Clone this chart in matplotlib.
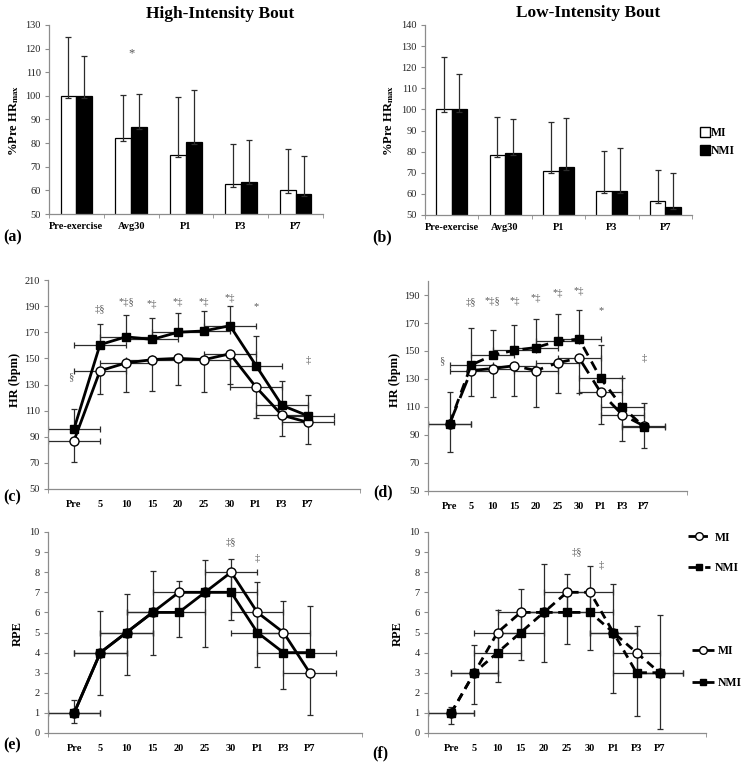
import numpy as np
import matplotlib.pyplot as plt
from matplotlib.lines import Line2D

plt.rcParams['font.family'] = 'Liberation Serif'
plt.rcParams['mathtext.fontset'] = 'stix'

W, H = 747, 771

# bar panels (a, b): % of pre-exercise HRmax
bar_cats = ['Pre-exercise', 'Avg30', 'P1', 'P3', 'P7']
hi_mi = [100, 82, 75, 62.5, 60]
hi_mi_sd = [25, 18.5, 24.5, 17, 17.5]
hi_nmi = [100, 87, 80.5, 63.5, 58.5]
hi_nmi_sd = [17, 14, 22, 18, 16]
lo_mi = [100, 78.5, 71, 61.5, 56.5]
lo_mi_sd = [25, 18, 23, 19, 15]
lo_nmi = [100, 79.5, 72.5, 61.5, 54]
lo_nmi_sd = [17, 16, 23.5, 20, 16]
bar_low = [1, 1, 1, 1, 1]

# line panels (c-f)
time_cats = ['Pre', '5', '10', '15', '20', '25', '30', 'P1', 'P3', 'P7']
hr_hi_mi = [87, 140.5, 146.5, 149, 150, 149, 153.5, 128, 106.5, 101]
hr_hi_mi_sd = [16, 18, 22, 24, 20.5, 25, 23, 24, 16, 16.5]
hr_hi_nmi = [96, 160.5, 166.5, 164.5, 170, 171, 175, 144.5, 114, 106]
hr_hi_nmi_sd = [15, 16, 17, 16.5, 15, 15, 15, 22.5, 18.5, 16]
hr_lo_mi = [98, 136, 137.5, 139.5, 136, 141.5, 145, 120.5, 104.5, 96.5]
hr_lo_mi_sd = [20, 18, 20.5, 21.5, 26, 21.5, 25, 22.5, 18.5, 15.5]
hr_lo_nmi = [98, 140, 147, 150.5, 152.5, 157, 158.5, 130.5, 110, 96]
hr_lo_nmi_sd = [23, 26.5, 18, 18, 20.5, 19.5, 20.5, 23.5, 21, 17]
rpe_hi_mi = [1, 4, 5, 6, 7, 7, 8, 6, 5, 3]
rpe_hi_mi_sd = [0.5, 2.1, 2.1, 2.1, 2.2, 2.7, 2.4, 2.7, 2.8, 2.1]
rpe_hi_nmi = [1, 4, 5, 6, 6, 7, 7, 5, 4, 4]
rpe_hi_nmi_sd = [0.65, 2.05, 1.9, 2.05, 1.55, 1.6, 1.65, 2.5, 2.55, 2.3]
rpe_lo_mi = [1, 3, 5, 6, 6, 7, 7, 5, 4, 3]
rpe_lo_mi_sd = [0.55, 1.55, 2.45, 2.35, 2.45, 2.55, 2.85, 3.0, 3.15, 2.8]
rpe_lo_nmi = [1, 3, 4, 5, 6, 6, 6, 5, 3, 3]
rpe_lo_nmi_sd = [0.3, 1.4, 2.1, 2.15, 2.4, 1.9, 2.3, 2.4, 2.3, 2.85]
time_err = 1

# significance marks: (x position, y value, text)
marks_c = [(0.86, 136, '§'), (2, 188, '‡§'), (3, 193, '*‡§'), (4, 192, '*‡'), (5, 193, '*‡'),
           (6, 193, '*‡'), (7, 196, '*‡'), (8, 190, '*'), (10, 149, '‡')]
marks_d = [(0.65, 143, '§'), (2, 185, '‡§'), (3, 186, '*‡§'), (4, 186, '*‡'), (5, 188, '*‡'),
           (6, 191.5, '*‡'), (7, 193, '*‡'), (8, 179, '*'), (10, 145, '‡')]
marks_e = [(7, 9.5, '‡§'), (8, 8.7, '‡')]
marks_f = [(6.45, 9.0, '‡§'), (7.5, 8.35, '‡')]

fig = plt.figure(figsize=(W / 100, H / 100), dpi=100)

AX_COL = '#8c8c8c'
ERR_COL = '#2b2b2b'


def px_axes(l, t, r, b):
    return fig.add_axes([l / W, 1 - b / H, (r - l) / W, (b - t) / H])


def style(ax):
    for s in ['top', 'right']:
        ax.spines[s].set_visible(False)
    for s in ['left', 'bottom']:
        ax.spines[s].set_color(AX_COL)
        ax.spines[s].set_linewidth(0.9)
    ax.tick_params(axis='y', direction='out', length=3, color=AX_COL, labelsize=7.5,
                   labelcolor='#222222', pad=3)
    # labels sit on the major ticks (no mark), marks on the minor ticks
    ax.tick_params(axis='x', which='major', length=0, labelsize=7.5, pad=8)
    ax.tick_params(axis='x', which='minor', direction='out', length=3, color=AX_COL)


def bar_panel(box, mi, mi_sd, nmi, nmi_sd, ylim, yticks):
    ax = px_axes(*box)
    x = np.arange(len(bar_cats))
    w = 0.29
    ax.bar(x - w / 2, mi, w, color='white', edgecolor='black', linewidth=0.9, zorder=2)
    ax.bar(x + w / 2, nmi, w, color='black', edgecolor='black', linewidth=0.9, zorder=2)
    ax.errorbar(x - w / 2, mi, yerr=[bar_low, mi_sd], fmt='none', ecolor=ERR_COL,
                elinewidth=0.9, capsize=2.5, capthick=0.9, zorder=3)
    ax.errorbar(x + w / 2, nmi, yerr=[bar_low, nmi_sd], fmt='none', ecolor=ERR_COL,
                elinewidth=0.9, capsize=2.5, capthick=0.9, zorder=3)
    ax.set_xlim(-0.5, len(bar_cats) - 0.5)
    ax.set_ylim(*ylim)
    ax.set_yticks(yticks)
    ax.set_xticks(x)
    ax.set_xticklabels(bar_cats, fontweight='bold')
    ax.set_xticks(np.arange(len(bar_cats) + 1) - 0.5, minor=True)
    style(ax)
    ax.tick_params(axis='x', which='major', pad=6)
    return ax


def line_panel(box, mi, mi_sd, nmi, nmi_sd, ylim, yticks, mi_dash, nmi_dash, marks):
    ax = px_axes(*box)
    x = np.arange(1, len(time_cats) + 1)
    zeros = np.zeros(len(x))
    ax.errorbar(x, mi, yerr=[mi_sd, zeros], xerr=time_err, fmt='none', ecolor=ERR_COL,
                elinewidth=0.9, capsize=2.3, capthick=0.9, zorder=2)
    ax.errorbar(x, nmi, yerr=[zeros, nmi_sd], xerr=time_err, fmt='none', ecolor=ERR_COL,
                elinewidth=0.9, capsize=2.3, capthick=0.9, zorder=2)
    l1, = ax.plot(x, mi, color='black', lw=2.0, marker='o', mfc='white', mec='black',
                  mew=1.0, ms=6.5, zorder=3)
    l2, = ax.plot(x, nmi, color='black', lw=2.0, marker='s', mfc='black', mec='black',
                  ms=6, zorder=4)
    if mi_dash:
        l1.set_dashes(mi_dash)
    if nmi_dash:
        l2.set_dashes(nmi_dash)
    for mx, my, mt in marks:
        ax.text(mx, my, mt, ha='center', va='center', fontsize=7.5, color='#5a5a5a')
    ax.set_xlim(0, 12)
    ax.set_ylim(*ylim)
    ax.set_yticks(yticks)
    ax.set_xticks(x)
    ax.set_xticklabels(time_cats, fontweight='bold')
    ax.set_xticks(np.arange(0, 13, 2), minor=True)
    style(ax)
    return ax


# (a) and (b)
axa = bar_panel((49, 25, 323, 214), hi_mi, hi_mi_sd, hi_nmi, hi_nmi_sd, (50, 130),
                np.arange(50, 131, 10))
axa.text(1, 118, '*', ha='center', va='center', fontsize=9, color='#555555')
bar_panel((425, 25, 692, 215), lo_mi, lo_mi_sd, lo_nmi, lo_nmi_sd, (50, 140),
          np.arange(50, 141, 10))

# (c) and (d)
line_panel((48, 280, 360, 489), hr_hi_mi, hr_hi_mi_sd, hr_hi_nmi, hr_hi_nmi_sd,
           (50, 210), np.arange(50, 211, 20), None, None, marks_c)
line_panel((428, 281, 687, 491), hr_lo_mi, hr_lo_mi_sd, hr_lo_nmi, hr_lo_nmi_sd,
           (50, 200), np.arange(50, 191, 20), (7, 3), (3.5, 2.5), marks_d)

# (e) and (f)
line_panel((48, 532, 362, 733), rpe_hi_mi, rpe_hi_mi_sd, rpe_hi_nmi, rpe_hi_nmi_sd,
           (0, 10), np.arange(0, 11, 1), None, None, marks_e)
line_panel((428, 532, 706, 733), rpe_lo_mi, rpe_lo_mi_sd, rpe_lo_nmi, rpe_lo_nmi_sd,
           (0, 10), np.arange(0, 11, 1), (3, 2), (3, 2), marks_f)

# titles, axis labels, panel letters
fig.text(220 / W, 1 - 14 / H, 'High-Intensity Bout', ha='center', va='center',
         fontsize=12.5, fontweight='bold')
fig.text(588 / W, 1 - 13 / H, 'Low-Intensity Bout', ha='center', va='center',
         fontsize=12.5, fontweight='bold')
ylab_bar = '%Pre HR$_{\\mathbf{max}}$'
for lx, ly, lt in [(14, 120, ylab_bar), (389, 120, ylab_bar), (15, 380, 'HR (bpm)'),
                   (395, 380, 'HR (bpm)'), (18, 633, 'RPE'), (398, 633, 'RPE')]:
    fig.text(lx / W, 1 - ly / H, lt, rotation=90, ha='center', va='center',
             fontsize=9, fontweight='bold')
for lx, ly, lt in [(3, 237, '(a)'), (372, 237, '(b)'), (3, 497, '(c)'),
                   (373, 492, '(d)'), (3, 745, '(e)'), (372, 753, '(f)')]:
    fig.text(lx / W, 1 - ly / H, lt, ha='left', va='center', fontsize=11.5,
             fontweight='bold')

# legends
leg_kw = dict(loc='center left', frameon=False, borderpad=0, borderaxespad=0,
              prop={'weight': 'bold', 'size': 8.5})
h_bar = [Line2D([], [], ls='none', marker='s', mfc='white', mec='black', ms=6.5),
         Line2D([], [], ls='none', marker='s', mfc='black', mec='black', ms=6.5)]
fig.legend(h_bar, ['MI', 'NMI'], bbox_to_anchor=(701 / W, 1 - 142 / H),
           handlelength=0.7, handletextpad=0.15, labelspacing=0.45, **leg_kw)

h_d = [Line2D([], [], color='black', lw=2, dashes=(7, 3), marker='o', mfc='white',
              mec='black', ms=5.5),
       Line2D([], [], color='black', lw=2, dashes=(3.5, 2.5), marker='s', mfc='black',
              ms=5)]
fig.legend(h_d, ['MI', 'NMI'], bbox_to_anchor=(688 / W, 1 - 553 / H),
           handlelength=1.9, handletextpad=0.35, labelspacing=1.6, **leg_kw)

h_f = [Line2D([], [], color='black', lw=2, dashes=(3, 2), marker='o', mfc='white',
              mec='black', ms=5.5),
       Line2D([], [], color='black', lw=2, dashes=(3, 2), marker='s', mfc='black', ms=5)]
fig.legend(h_f, ['MI', 'NMI'], bbox_to_anchor=(692 / W, 1 - 667 / H),
           handlelength=1.9, handletextpad=0.3, labelspacing=1.7, **leg_kw)

fig.savefig('out.png', dpi=100)
